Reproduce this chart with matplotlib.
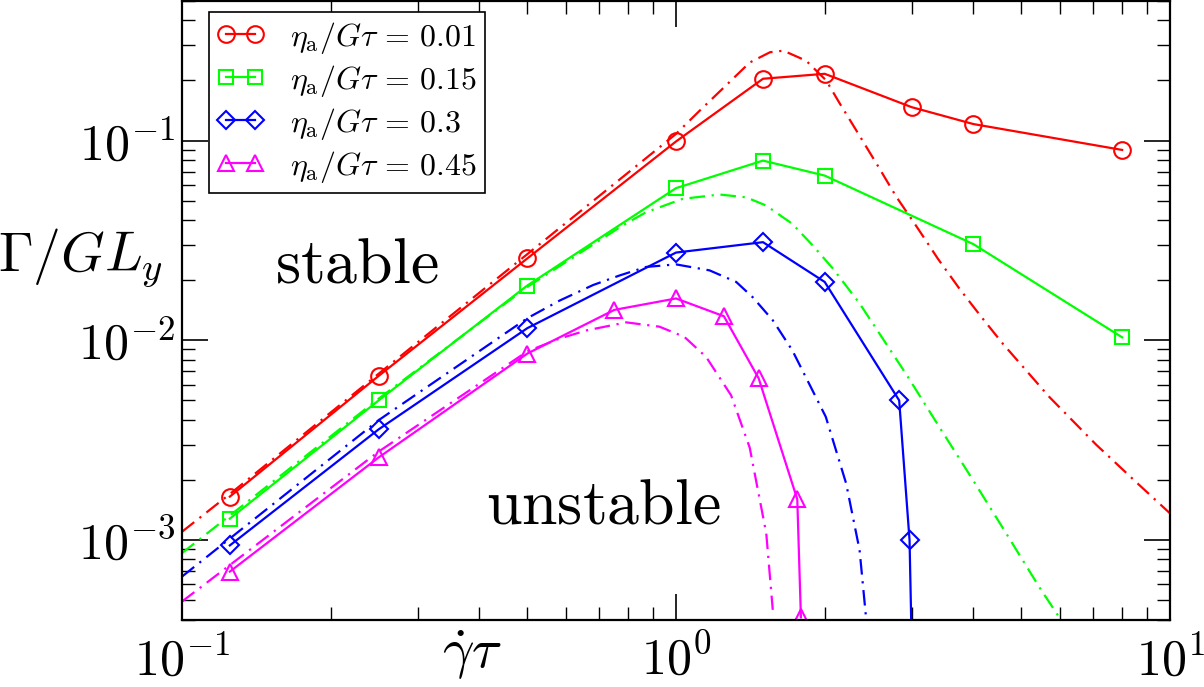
import math
import matplotlib
matplotlib.use("Agg")
import matplotlib.pyplot as plt
from matplotlib.ticker import LogLocator, FuncFormatter, NullFormatter

plt.rcParams['mathtext.fontset'] = 'cm'
plt.rcParams['font.family'] = 'serif'

# simulation points (solid lines with markers)
labels = [r'$\eta_{\rm a}/G\tau \,=\, 0.01$', r'$\eta_{\rm a}/G\tau \,=\, 0.15$',
          r'$\eta_{\rm a}/G\tau \,=\, 0.3$', r'$\eta_{\rm a}/G\tau \,=\, 0.45$']
colors = ['#ff0000', '#00ff00', '#0000ff', '#ff00ff']
markers = ['o', 's', 'D', '^']

x_red = [0.125, 0.25, 0.5, 1.0, 1.5, 2.0, 3.0, 4.0, 8.0]
y_red = [1.65e-3, 6.63e-3, 0.0257, 0.099, 0.204, 0.216, 0.147, 0.121, 0.0898]
x_green = [0.125, 0.25, 0.5, 1.0, 1.5, 2.0, 4.0, 8.0]
y_green = [1.28e-3, 5.0e-3, 0.0188, 0.0578, 0.0794, 0.0668, 0.0303, 0.01035]
x_blue = [0.125, 0.25, 0.5, 1.0, 1.5, 2.0, 2.83, 2.97, 3.0]
y_blue = [9.4e-4, 3.58e-3, 0.0115, 0.0275, 0.031, 0.0196, 5.0e-3, 1.0e-3, 3e-4]
x_mag = [0.125, 0.25, 0.5, 0.75, 1.0, 1.25, 1.47, 1.76, 1.79]
y_mag = [6.95e-4, 2.59e-3, 8.58e-3, 0.0142, 0.0162, 0.0132, 6.45e-3, 1.6e-3, 4.1e-4]

# theory curves (dash-dot)
xt_red = [0.1, 0.125, 0.25, 0.5, 1.0, 1.116, 1.26, 1.41, 1.55, 1.65, 1.835,
          2.014, 2.14, 2.33, 2.56, 2.79, 3.09, 3.39, 3.75, 4.15, 4.59, 5.70, 7.09,
          8.54, 10.0]
yt_red = [1.1e-3, 1.7e-3, 6.8e-3, 0.027, 0.108, 0.141, 0.188, 0.246, 0.277, 0.282,
          0.251, 0.2, 0.155, 0.110, 0.075, 0.0525, 0.0362, 0.0256, 0.0181,
          0.0131, 9.6e-3, 5.2e-3, 3.0e-3, 1.95e-3, 1.36e-3]
xt_green = [0.1, 0.25, 0.5, 0.78, 0.87, 1.032, 1.225, 1.387, 1.522, 1.72, 1.89,
            2.08, 2.353, 2.92, 3.41, 3.99, 4.66, 5.44, 5.93]
yt_green = [8.6e-4, 5.1e-3, 0.0185, 0.0376, 0.0438, 0.0511, 0.0537, 0.052, 0.0473,
            0.0383, 0.0299, 0.0228, 0.0153, 6.8e-3, 3.69e-3, 2.0e-3, 1.08e-3,
            5.8e-4, 4.2e-4]
xt_blue = [0.1, 0.25, 0.5, 0.581, 0.679, 0.768, 0.87, 1.0, 1.169, 1.324, 1.431,
           1.57, 1.72, 2.01, 2.21, 2.353, 2.427]
yt_blue = [6.56e-4, 3.98e-3, 0.0129, 0.0158, 0.0189, 0.0211, 0.0233, 0.024, 0.0224,
           0.0196, 0.0164, 0.0126, 8.9e-3, 4.14e-3, 1.92e-3, 8.9e-4, 4.0e-4]
xt_mag = [0.1, 0.25, 0.5, 0.581, 0.658, 0.793, 0.926, 1.04, 1.151, 1.293, 1.41,
          1.523, 1.57]
yt_mag = [4.92e-4, 2.77e-3, 8.8e-3, 0.0102, 0.0112, 0.0123, 0.0117, 0.0104, 8.25e-3,
          5.3e-3, 2.9e-3, 1.08e-3, 4.47e-4]

sim_x = [x_red, x_green, x_blue, x_mag]
sim_y = [y_red, y_green, y_blue, y_mag]
th_x = [xt_red, xt_green, xt_blue, xt_mag]
th_y = [yt_red, yt_green, yt_blue, yt_mag]

fig = plt.figure(figsize=(12.04, 6.87), dpi=100)
ax = fig.add_axes([182 / 1204, 1 - 619.5 / 687, 988 / 1204, 618.5 / 687])

msizes = [12, 9.5, 9.5, 12]
for i in range(4):
    ax.plot(th_x[i], th_y[i], color=colors[i], lw=1.6, dashes=(7, 3, 1, 3))
    ax.plot(sim_x[i], sim_y[i], color=colors[i], lw=1.6, marker=markers[i],
            ms=msizes[i], mfc='none', mew=1.5, label=labels[i])

ax.set_xscale('log')
ax.set_yscale('log')
ax.set_xlim(0.1, 10)
ax.set_ylim(4e-4, 0.5)

fmt = FuncFormatter(lambda v, p: r'$10^{%d}$' % round(math.log10(v)))
ax.xaxis.set_major_formatter(fmt)
ax.yaxis.set_major_formatter(fmt)
ax.xaxis.set_minor_formatter(NullFormatter())
ax.yaxis.set_minor_formatter(NullFormatter())
ax.yaxis.set_major_locator(LogLocator(base=10, numticks=10))
ax.yaxis.set_minor_locator(LogLocator(base=10, subs=range(2, 10), numticks=20))

ax.tick_params(which='both', direction='in', top=True, right=True)
ax.tick_params(which='major', length=19, width=1.2, labelsize=36)
ax.tick_params(which='minor', length=9.5, width=1.0)
ax.tick_params(axis='x', which='major', pad=12)
ax.tick_params(axis='y', which='major', pad=5)
for s in ax.spines.values():
    s.set_linewidth(1.6)

fig.text(81 / 1204, 1 - 258 / 687, r'$\Gamma/GL_y$', fontsize=40, ha='center', va='center')
fig.text(472 / 1204, 1 - 655 / 687, r'$\dot\gamma\tau$', fontsize=40, ha='center', va='center')

ax.text(0.226, 0.0195, r'$\mathrm{stable}$', fontsize=46, ha='center', va='baseline')
ax.text(0.711, 1.216e-3, r'$\mathrm{unstable}$', fontsize=46, ha='center', va='baseline')

leg = ax.legend(loc='upper left', bbox_to_anchor=(0.027, 0.983), fontsize=23,
                numpoints=2, handlelength=1.5, handletextpad=0.8, labelspacing=0.22,
                borderpad=0.25, borderaxespad=0, fancybox=False, framealpha=1,
                edgecolor='black')
leg.get_frame().set_linewidth(1.2)

fig.savefig('out.png', dpi=100)
